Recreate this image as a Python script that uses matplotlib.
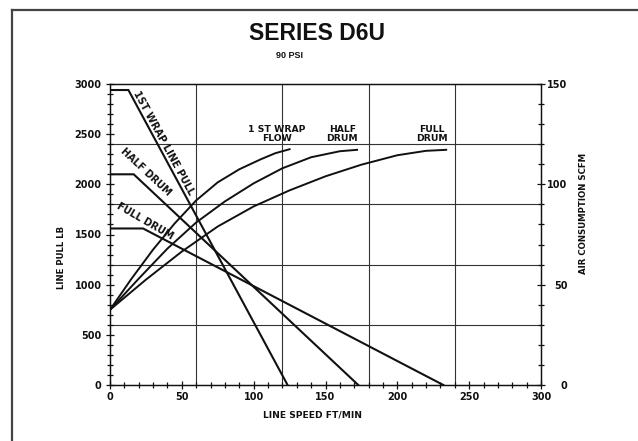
import numpy as np
import matplotlib
matplotlib.use("Agg")
from matplotlib import pyplot as plt
from matplotlib.lines import Line2D
from matplotlib.ticker import MultipleLocator

plt.rcParams['font.family'] = ['DejaVu Sans']

# line pull curves (lb) vs line speed (ft/min)
wrap1_pull_x = [0, 12.8, 123.6]
wrap1_pull_y = [2940, 2940, 0]
half_pull_x = [0, 16.5, 172.8]
half_pull_y = [2100, 2100, 0]
full_pull_x = [0, 23, 232]
full_pull_y = [1560, 1560, 0]

# air consumption curves (scfm) vs line speed
wrap1_flow_x = [0, 15, 30, 45, 60, 75, 90, 105, 115, 125]
wrap1_flow_y = [37.5, 53, 67.5, 80.5, 92, 101, 107.5, 112.5, 115.5, 117.5]
half_flow_x = [0, 20, 40, 60, 80, 100, 120, 140, 160, 172]
half_flow_y = [37.5, 53, 68, 81, 91.5, 100.5, 108, 113.5, 116.5, 117.2]
full_flow_x = [0, 25, 50, 75, 100, 125, 150, 175, 200, 220, 234]
full_flow_y = [37.5, 52.5, 66.5, 79, 89, 97, 104, 109.8, 114.5, 116.7, 117.2]

ink = '#111111'
W, H = 638, 441

fig = plt.figure(figsize=(6.38, 4.41), dpi=100)
ax = fig.add_axes([110 / W, 1 - 385 / H, (541 - 110) / W, (385 - 84) / H])
ax2 = ax.twinx()

for xs, ys in [(wrap1_pull_x, wrap1_pull_y), (half_pull_x, half_pull_y), (full_pull_x, full_pull_y)]:
    ax.plot(xs, ys, color=ink, lw=1.5, solid_joinstyle='miter')
for xs, ys in [(wrap1_flow_x, wrap1_flow_y), (half_flow_x, half_flow_y), (full_flow_x, full_flow_y)]:
    ax2.plot(xs, ys, color=ink, lw=1.4)

ax.set_xlim(0, 300)
ax.set_ylim(0, 3000)
ax2.set_ylim(0, 150)

for v in [60, 120, 180, 240]:
    ax.axvline(v, color='#333333', lw=0.8, zorder=0)
for v in [600, 1200, 1800, 2400]:
    ax.axhline(v, color='#333333', lw=0.8, zorder=0)

ax.xaxis.set_major_locator(MultipleLocator(50))
ax.xaxis.set_minor_locator(MultipleLocator(10))
ax.yaxis.set_major_locator(MultipleLocator(500))
ax.yaxis.set_minor_locator(MultipleLocator(100))
ax2.yaxis.set_major_locator(MultipleLocator(50))
ax2.yaxis.set_minor_locator(MultipleLocator(10))

ax.tick_params(axis='both', which='major', direction='inout', length=6, width=0.9,
               colors=ink, labelsize=7, pad=3)
ax.tick_params(axis='both', which='minor', direction='inout', length=5, width=0.9, colors=ink)
ax.tick_params(axis='x', which='major', pad=1.8)
ax2.tick_params(axis='y', which='major', direction='inout', length=6, width=0.9,
                colors=ink, labelsize=7, pad=16)
ax2.tick_params(axis='y', which='minor', direction='inout', length=5, width=0.9, colors=ink)
for lab in ax2.get_yticklabels():
    lab.set_horizontalalignment('right')
for lab in ax.get_xticklabels() + ax.get_yticklabels() + ax2.get_yticklabels():
    lab.set_fontweight('bold')

for a in (ax, ax2):
    for s in a.spines.values():
        s.set_color(ink)
        s.set_linewidth(0.9)

# curve labels
lab_kw = dict(fontsize=6.7, fontweight='bold', color=ink)
ax.text(37.6, 2416, '1ST WRAP LINE PULL', rotation=-61.5, rotation_mode='anchor',
        ha='center', va='center', fontsize=7.1, fontweight='bold', color=ink)
ax.text(24.9, 2119, 'HALF DRUM', rotation=-43, rotation_mode='anchor',
        ha='center', va='center', fontsize=7, fontweight='bold', color=ink)
ax.text(24.4, 1637, 'FULL DRUM', rotation=-30, rotation_mode='anchor',
        ha='center', va='center', fontsize=7, fontweight='bold', color=ink)
ax.text(116, 2502, '1 ST WRAP\nFLOW', ha='center', va='center', linespacing=1.1, **lab_kw)
ax.text(161.7, 2502, 'HALF\nDRUM', ha='center', va='center', linespacing=1.1, **lab_kw)
ax.text(223.8, 2502, 'FULL\nDRUM', ha='center', va='center', linespacing=1.1, **lab_kw)

# axis titles
fig.text(62 / W, 1 - 257 / H, 'LINE PULL LB', rotation=90, ha='center', va='center',
         fontsize=6.2, fontweight='bold', color=ink)
fig.text(583 / W, 1 - 213 / H, 'AIR CONSUMPTION SCFM', rotation=90, ha='center', va='center',
         fontsize=6.2, fontweight='bold', color=ink)
fig.text(312.5 / W, 1 - 415 / H, 'LINE SPEED FT/MIN', ha='center', va='center',
         fontsize=6.6, fontweight='bold', color=ink)

fig.text(317 / W, 1 - 34 / H, 'SERIES D6U', ha='center', va='center',
         fontsize=16.5, fontweight='bold', color=ink, family='Liberation Sans')
fig.text(289 / W, 1 - 55 / H, '90 PSI', ha='center', va='center',
         fontsize=6.5, fontweight='bold', color=ink, family='Liberation Sans')

# page frame (left and top edges visible)
fig.add_artist(Line2D([12 / W, 12 / W], [0, 1 - 10 / H], transform=fig.transFigure,
                      color='#444444', lw=1.6))
fig.add_artist(Line2D([12 / W, 1], [1 - 10 / H, 1 - 10 / H], transform=fig.transFigure,
                      color='#444444', lw=1.6))

fig.savefig('out.png', dpi=100)
